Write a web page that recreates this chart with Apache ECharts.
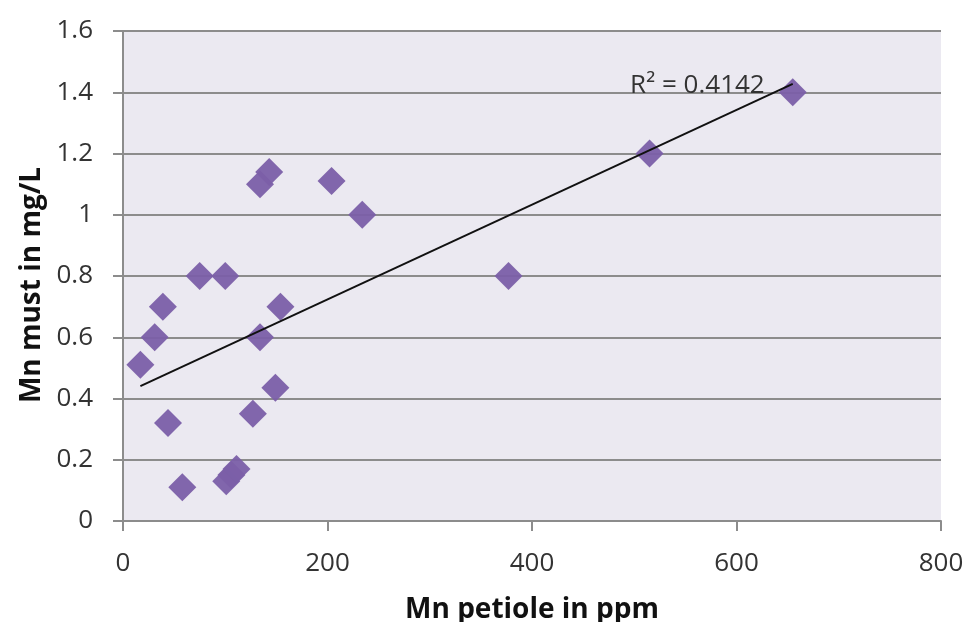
<!DOCTYPE html>
<html>
<head>
<meta charset="utf-8">
<script src="https://cdn.jsdelivr.net/npm/echarts@6/dist/echarts.min.js"></script>
<style>html,body{margin:0;padding:0;background:#fff}#c{width:966px;height:622px}</style>
</head>
<body>
<div id="c"></div>
<script>
const petioleMn = [17, 31, 39, 44, 58, 75, 100, 101, 106, 111, 127, 134, 134, 143, 149, 154, 204, 234, 377, 515, 655];
const mustMn = [0.51, 0.60, 0.70, 0.32, 0.11, 0.80, 0.80, 0.13, 0.15, 0.17, 0.35, 0.60, 1.10, 1.14, 0.435, 0.70, 1.11, 1.00, 0.80, 1.20, 1.40];
const xTicks = [0, 200, 400, 600, 800];
const yTicks = [0, 0.2, 0.4, 0.6, 0.8, 1, 1.2, 1.4, 1.6];
const r2Label = 'R² = 0.4142';

const pts = petioleMn.map((x, i) => [x, mustMn[i]]);
// least-squares trend line
const n = pts.length;
const mx = petioleMn.reduce((a, b) => a + b, 0) / n;
const my = mustMn.reduce((a, b) => a + b, 0) / n;
let sxy = 0, sxx = 0;
for (let i = 0; i < n; i++) { sxy += (petioleMn[i] - mx) * (mustMn[i] - my); sxx += (petioleMn[i] - mx) ** 2; }
const slope = sxy / sxx, intercept = my - slope * mx;
const xMin = Math.min(...petioleMn), xMax = Math.max(...petioleMn);
const trend = [[xMin, intercept + slope * xMin], [xMax, intercept + slope * xMax]];

const font = '"Open Sans", "Noto Sans", sans-serif';
const chart = echarts.init(document.getElementById('c'));
chart.setOption({
  animation: false,
  grid: { left: 123, top: 31, right: 25, bottom: 101, show: true, backgroundColor: '#ebe9f1', borderWidth: 0, containLabel: false, outerBoundsMode: 'none' },
  xAxis: {
    type: 'value', min: xTicks[0], max: xTicks[xTicks.length - 1], interval: 200,
    name: 'Mn petiole in ppm', nameLocation: 'middle', nameGap: 75,
    nameTextStyle: { fontFamily: font, fontSize: 28, fontWeight: 'bold', color: '#111' },
    axisLine: { show: true, onZero: false, lineStyle: { color: '#8c8c8c', width: 2 } },
    axisTick: { show: true, length: 10, lineStyle: { color: '#8c8c8c', width: 2 } },
    axisLabel: { fontFamily: font, fontSize: 26, color: '#333', margin: 30 },
    splitLine: { show: false }
  },
  yAxis: {
    type: 'value', min: yTicks[0], max: yTicks[yTicks.length - 1], interval: 0.2,
    name: 'Mn must in mg/L', nameLocation: 'middle', nameGap: 76,
    nameTextStyle: { fontFamily: font, fontSize: 28, fontWeight: 'bold', color: '#111', padding: [0, 18, 0, 0] },
    axisLine: { show: true, onZero: false, lineStyle: { color: '#8c8c8c', width: 2 } },
    axisTick: { show: true, length: 10, lineStyle: { color: '#8c8c8c', width: 2 } },
    axisLabel: { fontFamily: font, fontSize: 26, color: '#333', margin: 30 },
    splitLine: { show: true, lineStyle: { color: '#8c8c8c', width: 2 } }
  },
  series: [
    {
      type: 'scatter', data: pts, symbol: 'diamond', symbolSize: 28,
      itemStyle: { color: '#7b5fa8', opacity: 0.95 }, z: 3
    },
    {
      type: 'line', data: trend, symbol: 'none', showSymbol: false,
      lineStyle: { color: '#111', width: 2 }, z: 4,
      markPoint: {
        symbol: 'circle', symbolSize: 0,
        data: [{ coord: trend[1], label: { show: true, formatter: r2Label, position: 'left', distance: 28, offset: [0, 2], fontFamily: font, fontSize: 26, color: '#333' } }]
      }
    }
  ]
});
</script>
</body>
</html>
